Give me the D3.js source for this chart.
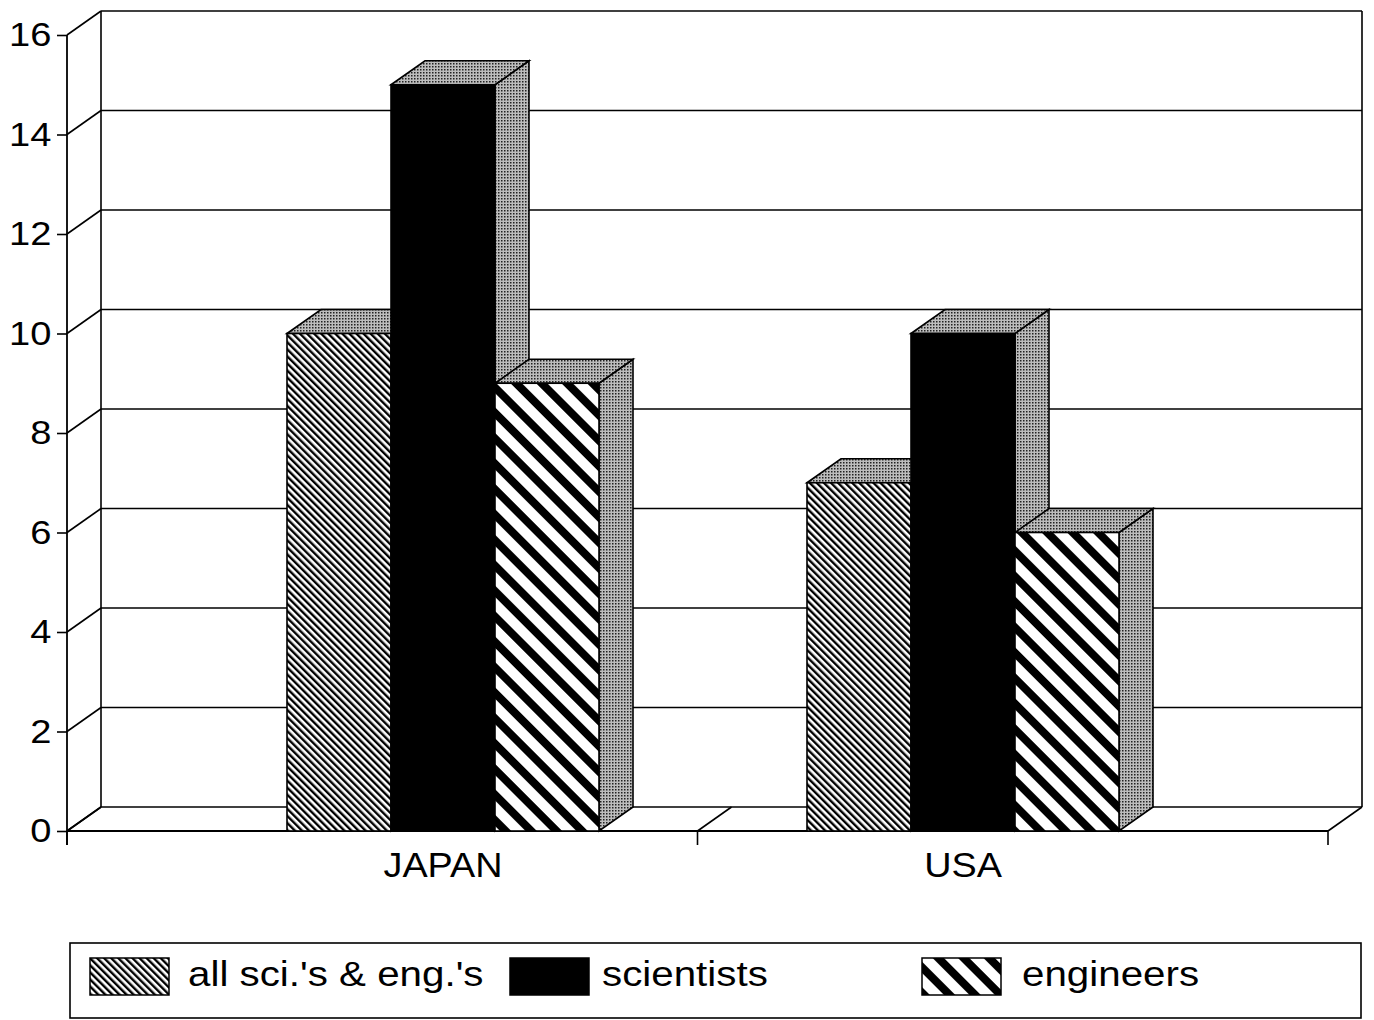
<!DOCTYPE html>
<html>
<head>
<meta charset="utf-8">
<script src="https://cdn.jsdelivr.net/npm/d3@7/dist/d3.min.js"></script>
<style>
  html, body { margin: 0; padding: 0; background: #fff; }
  svg { display: block; }
  text { font-family: "Liberation Sans", Arial, Helvetica, sans-serif; fill: #000; }
</style>
</head>
<body>
<script>
// ---- data ----
const categories = ["JAPAN", "USA"];
const seriesNames = ["all sci.'s & eng.'s", "scientists", "engineers"];
const allSciEng = [10, 7];
const scientists = [15, 10];
const engineers = [9, 6];
const yTicks = [0, 2, 4, 6, 8, 10, 12, 14, 16];

const seriesValues = [allSciEng, scientists, engineers];
const seriesFill = ["url(#hatchFine)", "#000", "url(#hatchWide)"];

// ---- layout ----
const W = 1374, H = 1020;
const DX = 34, DY = -24;           // depth offset
const svg = d3.select("body").append("svg").attr("width", W).attr("height", H);

const defs = svg.append("defs");
// fine hatch
const pf = defs.append("pattern").attr("id", "hatchFine").attr("patternUnits", "userSpaceOnUse")
  .attr("width", 5).attr("height", 5).attr("patternTransform", "rotate(-45)");
pf.append("rect").attr("width", 5).attr("height", 5).attr("fill", "#fff");
pf.append("rect").attr("x", 0).attr("width", 2.4).attr("height", 5).attr("fill", "#000");
// wide hatch
const pw = defs.append("pattern").attr("id", "hatchWide").attr("patternUnits", "userSpaceOnUse")
  .attr("width", 18).attr("height", 18).attr("patternTransform", "rotate(-45)");
pw.append("rect").attr("width", 18).attr("height", 18).attr("fill", "#fff");
pw.append("rect").attr("x", 0).attr("width", 8).attr("height", 18).attr("fill", "#000");
// stipple
const ps = defs.append("pattern").attr("id", "stipple").attr("patternUnits", "userSpaceOnUse")
  .attr("width", 3).attr("height", 3);
ps.append("rect").attr("width", 3).attr("height", 3).attr("fill", "#bdbdbd");
ps.append("rect").attr("x", 0).attr("y", 0).attr("width", 1.5).attr("height", 1.5).attr("fill", "#222");

const y = d3.scaleLinear().domain([0, 16]).range([831, 35]);
const xFloor = d3.scaleLinear().domain([0, categories.length]).range([67, 1328]);
const x0 = d3.scaleBand().domain(categories).range([183, 1223]).paddingInner(0.4).paddingOuter(0.2);
const x1 = d3.scaleBand().domain(seriesNames).range([0, x0.bandwidth()]);

const line = (g, x1_, y1_, x2_, y2_, w) =>
  g.append("line").attr("x1", x1_).attr("y1", y1_).attr("x2", x2_).attr("y2", y2_)
    .attr("stroke", "#000").attr("stroke-width", w || 1.6);

const walls = svg.append("g");
const xL = xFloor.range()[0], xR = xFloor.range()[1];
// back wall gridlines and side-wall diagonals
yTicks.forEach(t => {
  line(walls, xL + DX, y(t) + DY, xR + DX, y(t) + DY, 1.7);
  line(walls, xL, y(t), xL + DX, y(t) + DY, 1.6);
});
// wall edges
line(walls, xL + DX, y(16) + DY, xL + DX, y(0) + DY, 1.6);
line(walls, xR + DX, y(16) + DY, xR + DX, y(0) + DY, 1.6);
// floor
line(walls, xL, y(0), xR, y(0), 1.8);
d3.range(categories.length + 1).forEach(i => {
  line(walls, xFloor(i), y(0), xFloor(i) + DX, y(0) + DY, 1.6);
  line(walls, xFloor(i), y(0), xFloor(i), y(0) + 14, 1.6);
});

// y axis
const yAxis = d3.axisLeft(y).tickValues(yTicks).tickSize(10).tickSizeOuter(0).tickPadding(4);
const ya = svg.append("g").attr("transform", `translate(${xL},0)`).call(yAxis);
ya.select(".domain").remove();
ya.selectAll(".tick line").attr("stroke", "#000").attr("stroke-width", 1.6);
ya.selectAll(".tick text").attr("font-size", 34).attr("font-family", "Liberation Sans, Arial, sans-serif")
  .attr("fill", "#000").attr("transform", "scale(1.12,1)");
line(svg, xL, y(16), xL, y(0) + 14, 1.8);

// bars
const barsG = svg.append("g");
categories.forEach((c, ci) => {
  seriesNames.forEach((s, si) => {
    const v = seriesValues[si][ci];
    const L = x0(c) + x1(s), w = x1.bandwidth();
    const yt = y(v), yb = y(0);
    const g = barsG.append("g");
    g.append("polygon")
      .attr("points", [[L + w, yt], [L + w + DX, yt + DY], [L + w + DX, yb + DY], [L + w, yb]].map(p => p.join(",")).join(" "))
      .attr("fill", "url(#stipple)").attr("stroke", "#000").attr("stroke-width", 1.6);
    g.append("polygon")
      .attr("points", [[L, yt], [L + DX, yt + DY], [L + w + DX, yt + DY], [L + w, yt]].map(p => p.join(",")).join(" "))
      .attr("fill", "url(#stipple)").attr("stroke", "#000").attr("stroke-width", 1.6);
    g.append("rect").attr("x", L).attr("y", yt).attr("width", w).attr("height", yb - yt)
      .attr("fill", seriesFill[si]).attr("stroke", "#000").attr("stroke-width", 1.6);
  });
});

// category labels
categories.forEach(c => {
  const cx = x0(c) + x0.bandwidth() / 2;
  svg.append("text").attr("transform", `translate(${cx},877) scale(1.08,1)`)
    .attr("text-anchor", "middle").attr("font-size", 35).text(c);
});

// legend
const legend = svg.append("g");
legend.append("rect").attr("x", 70).attr("y", 943).attr("width", 1291).attr("height", 75)
  .attr("fill", "none").attr("stroke", "#000").attr("stroke-width", 1.6);
const swatchX = [90, 510, 922];
const labelX = [188, 602, 1022];
seriesNames.forEach((s, si) => {
  legend.append("rect").attr("x", swatchX[si]).attr("y", 958).attr("width", 79).attr("height", 37)
    .attr("fill", seriesFill[si]).attr("stroke", "#000").attr("stroke-width", 1.5);
  legend.append("text").attr("transform", `translate(${labelX[si]},986) scale(1.12,1)`)
    .attr("font-size", 36).text(s);
});
</script>
</body>
</html>
